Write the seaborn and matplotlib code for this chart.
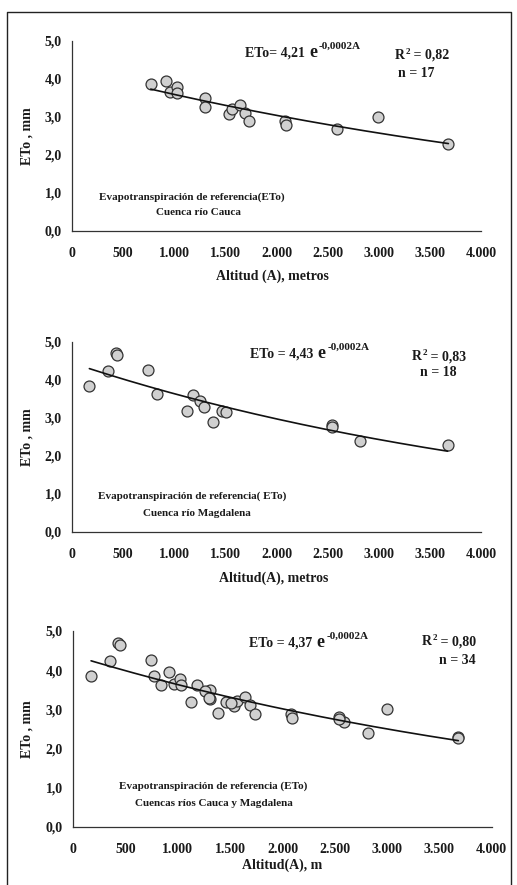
import numpy as np
import pandas as pd
import seaborn as sns
import matplotlib
matplotlib.use("Agg")
import matplotlib.pyplot as plt
from matplotlib.ticker import FuncFormatter
from matplotlib.lines import Line2D

# Cuenca rio Cauca (altitud m, ETo mm)
alt_cauca = [770, 916, 958, 1024, 1030, 1304, 1304, 1539, 1562, 1643,
             1692, 1734, 2083, 2093, 2592, 2996, 3681]
eto_cauca = [3.86, 3.96, 3.65, 3.78, 3.62, 3.49, 3.27, 3.08, 3.22, 3.32,
             3.10, 2.89, 2.89, 2.78, 2.68, 3.01, 2.30]

# Cuenca rio Magdalena
alt_magd = [170, 355, 427, 443, 743, 835, 1128, 1183, 1255, 1294,
            1382, 1464, 1503, 2540, 2543, 2817, 3674]
eto_magd = [3.85, 4.24, 4.70, 4.65, 4.26, 3.62, 3.19, 3.61, 3.46, 3.28,
            2.90, 3.18, 3.16, 2.81, 2.76, 2.39, 2.28]

x_ticks = [0, 500, 1000, 1500, 2000, 2500, 3000, 3500, 4000]
y_ticks = [0, 1, 2, 3, 4, 5]

sns.set_theme(style="white")
plt.rcParams['font.family'] = ['Liberation Serif', 'DejaVu Serif']
plt.rcParams['font.weight'] = 'bold'
ink = '#1a1a1a'

fig = plt.figure(figsize=(5.17, 8.85), dpi=100)

# frame around the whole figure
W, H = 517.0, 885.0
fig.add_artist(Line2D([7 / W, 7 / W, 511 / W, 511 / W], [0, 1 - 12 / H, 1 - 12 / H, 0],
                      transform=fig.transFigure, color='#222222', lw=1.0))

panels = [
    dict(rect=[72 / W, 1 - 231 / H, 409 / W, 190 / H], a=alt_cauca, e=eto_cauca,
         coef='4,21', sep='= ', r2='0,82', n='17',
         eq_xy=(0.423, 0.935), r2_xy=(0.79, 0.925), n_xy=(0.841, 0.83),
         t1='Evapotranspiración de referencia(ETo)', t1_xy=(0.292, 0.179),
         t2='Cuenca río Cauca', t2_xy=(0.308, 0.095),
         xlabel='Altitud (A), metros', xl_xy=(0.489, -0.205), yl_x=-0.095),
    dict(rect=[72 / W, 1 - 532 / H, 409 / W, 190 / H], a=alt_magd, e=eto_magd,
         coef='4,43', sep=' = ', r2='0,83', n='18',
         eq_xy=(0.436, 0.935), r2_xy=(0.831, 0.923), n_xy=(0.896, 0.837),
         t1='Evapotranspiración de referencia( ETo)', t1_xy=(0.295, 0.186),
         t2='Cuenca río Magdalena', t2_xy=(0.306, 0.10),
         xlabel='Altitud(A), metros', xl_xy=(0.492, -0.21), yl_x=-0.095),
    dict(rect=[73.3 / W, 1 - 827 / H, 418.4 / W, 196 / H], a=alt_cauca + alt_magd,
         e=eto_cauca + eto_magd, coef='4,37', sep=' = ', r2='0,80', n='34',
         eq_xy=(0.421, 0.937), r2_xy=(0.834, 0.945), n_xy=(0.918, 0.852),
         t1='Evapotranspiración de referencia (ETo)', t1_xy=(0.334, 0.209),
         t2='Cuencas ríos Cauca y Magdalena', t2_xy=(0.335, 0.121),
         xlabel='Altitud(A), m', xl_xy=(0.498, -0.16), yl_x=-0.096),
]

for p in panels:
    ax = fig.add_axes(p['rect'])
    df = pd.DataFrame({'alt': p['a'], 'eto': p['e']})

    sns.scatterplot(data=df, x='alt', y='eto', ax=ax, s=62, color='#d0d0d0',
                    edgecolor='#333333', linewidth=0.9, zorder=3, legend=False)

    # exponential fit ETo = a * exp(k * A)
    k, lna = np.polyfit(df['alt'], np.log(df['eto']), 1)
    xs = np.linspace(df['alt'].min(), df['alt'].max(), 200)
    ax.plot(xs, np.exp(lna) * np.exp(k * xs), color='#111111', lw=1.2, zorder=4)

    ax.set_xlim(0, 4000)
    ax.set_ylim(0, 5)
    ax.set_xticks(x_ticks)
    ax.set_yticks(y_ticks)
    ax.xaxis.set_major_formatter(FuncFormatter(lambda v, _: f"{int(v):,}".replace(',', '.')))
    ax.yaxis.set_major_formatter(FuncFormatter(lambda v, _: f"{v:.1f}".replace('.', ',')))
    ax.tick_params(axis='both', which='both', direction='out', length=4, width=0.9,
                   color='#333333', labelsize=10, labelcolor=ink)
    ax.tick_params(axis='x', pad=7.5)
    ax.tick_params(axis='y', pad=3.5)
    for lab in ax.get_xticklabels() + ax.get_yticklabels():
        lab.set_fontweight('bold')
    sns.despine(ax=ax)
    for s in ['left', 'bottom']:
        ax.spines[s].set_color('#333333')
        ax.spines[s].set_linewidth(0.9)
    ax.set_facecolor('none')

    ax.set_xlabel(p['xlabel'], fontsize=10, fontweight='bold', color=ink)
    ax.xaxis.set_label_coords(*p['xl_xy'])
    ax.set_ylabel('ETo , mm', fontsize=10, fontweight='bold', color=ink)
    ax.yaxis.set_label_coords(p['yl_x'], 0.5)

    # equation text: "ETo = a e^-0,0002A"
    t = ax.text(p['eq_xy'][0], p['eq_xy'][1], 'ETo' + p['sep'] + p['coef'], transform=ax.transAxes,
                fontsize=10, fontweight='bold', color=ink, ha='left', va='center')
    te = ax.annotate('e', xy=(1, 0), xycoords=t, xytext=(3, -1), textcoords='offset points',
                     fontsize=13, fontweight='bold', color=ink, ha='left', va='bottom')
    ax.annotate('-0,0002A', xy=(1, 1), xycoords=te, xytext=(1, -5), textcoords='offset points',
                fontsize=8, fontweight='bold', color=ink, ha='left', va='bottom')

    # R^2 with a small raised 2
    tr = ax.text(p['r2_xy'][0], p['r2_xy'][1], 'R', transform=ax.transAxes,
                 fontsize=10, fontweight='bold', color=ink, ha='left', va='center')
    t2 = ax.annotate('2', xy=(1, 1), xycoords=tr, xytext=(0.3, -5), textcoords='offset points',
                     fontsize=6.5, fontweight='bold', color=ink, ha='left', va='bottom')
    ax.annotate(' = ' + p['r2'], xy=(1, 0), xycoords=(t2, tr), xytext=(0, 0),
                textcoords='offset points', fontsize=10, fontweight='bold', color=ink,
                ha='left', va='bottom')
    ax.text(p['n_xy'][0], p['n_xy'][1], 'n = ' + p['n'], transform=ax.transAxes,
            fontsize=10, fontweight='bold', color=ink, ha='center', va='center')

    ax.text(p['t1_xy'][0], p['t1_xy'][1], p['t1'], transform=ax.transAxes,
            fontsize=8, fontweight='bold', color=ink, ha='center', va='center')
    ax.text(p['t2_xy'][0], p['t2_xy'][1], p['t2'], transform=ax.transAxes,
            fontsize=8, fontweight='bold', color=ink, ha='center', va='center')

fig.savefig('out.png', dpi=100)
